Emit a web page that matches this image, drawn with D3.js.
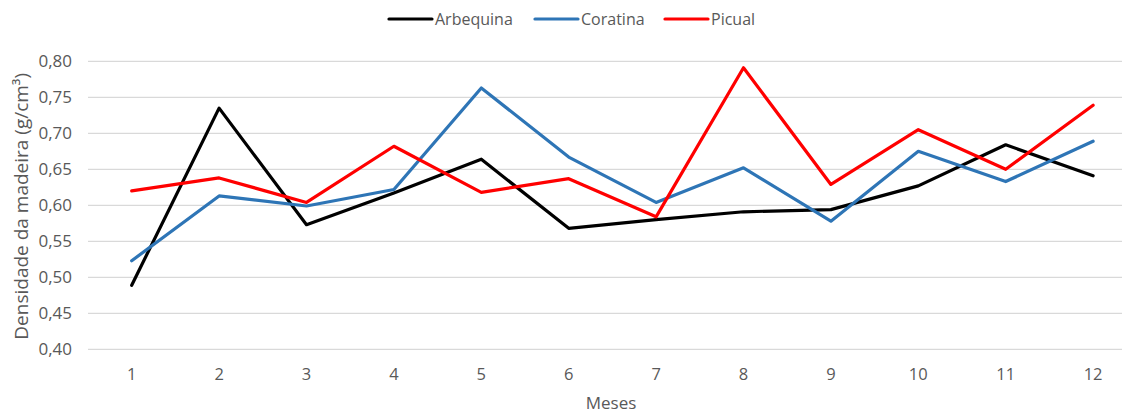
<!DOCTYPE html>
<html>
<head>
<meta charset="utf-8">
<script src="https://cdn.jsdelivr.net/npm/d3@7"></script>
<style>
  html, body { margin: 0; padding: 0; background: #fff; }
  svg { display: block; }
  text { font-family: "Open Sans", "Noto Sans", sans-serif; fill: #595959; }
</style>
</head>
<body>
<svg id="chart" width="1122" height="414"></svg>
<script>
// Months of the year
const months = ["1", "2", "3", "4", "5", "6", "7", "8", "9", "10", "11", "12"];

// Wood density (g/cm³) per cultivar
const arbequina = [0.489, 0.735, 0.573, 0.617, 0.664, 0.568, 0.580, 0.591, 0.594, 0.627, 0.684, 0.641];
const coratina  = [0.523, 0.613, 0.599, 0.622, 0.763, 0.667, 0.604, 0.652, 0.578, 0.675, 0.633, 0.689];
const picual    = [0.620, 0.638, 0.604, 0.682, 0.618, 0.637, 0.584, 0.791, 0.629, 0.705, 0.650, 0.739];

const seriesNames  = ["Arbequina", "Coratina", "Picual"];
const seriesColors = ["#000000", "#2E75B6", "#FF0000"];
const yTicks = [0.40, 0.45, 0.50, 0.55, 0.60, 0.65, 0.70, 0.75, 0.80];

const series = [arbequina, coratina, picual].map((values, i) => ({
  name: seriesNames[i], color: seriesColors[i], values
}));

const svg = d3.select("#chart");
const plotLeft = 88, plotTop = 61.3, plotBottom = 349.3;
const band = 87.4;

const x = d3.scaleBand().domain(months).range([plotLeft, plotLeft + band * months.length]);
const y = d3.scaleLinear().domain([0.40, 0.80]).range([plotBottom, plotTop]);
const fmt = v => d3.format(".2f")(v).replace(".", ",");

// Horizontal gridlines
svg.append("g")
  .selectAll("line")
  .data(yTicks)
  .join("line")
  .attr("x1", plotLeft).attr("x2", 1122)
  .attr("y1", d => y(d)).attr("y2", d => y(d))
  .attr("stroke", "#d9d9d9").attr("stroke-width", 1.3);

// Y axis labels
const yAxis = svg.append("g")
  .attr("transform", `translate(${plotLeft - 16},0)`)
  .call(d3.axisLeft(y).tickValues(yTicks).tickFormat(fmt).tickSize(0).tickPadding(0));
yAxis.select(".domain").remove();
yAxis.attr("font-family", null).attr("font-size", null);
yAxis.selectAll("text").attr("font-size", 17).attr("fill", null);

// X axis labels
const xAxis = svg.append("g")
  .attr("transform", `translate(0,${plotBottom + 19})`)
  .call(d3.axisBottom(x).tickSize(0).tickPadding(0));
xAxis.select(".domain").remove();
xAxis.attr("font-family", null).attr("font-size", null);
xAxis.selectAll("text").attr("font-size", 16.5).attr("fill", null);

// Axis titles
svg.append("text")
  .attr("transform", `translate(28,${(plotTop + plotBottom) / 2 + 1}) rotate(-90)`)
  .attr("text-anchor", "middle")
  .attr("font-size", 19)
  .text("Densidade da madeira (g/cm³)");

svg.append("text")
  .attr("x", 611).attr("y", 409)
  .attr("text-anchor", "middle")
  .attr("font-size", 17)
  .text("Meses");

// Series lines
const line = d3.line()
  .x((d, i) => x(months[i]) + x.bandwidth() / 2)
  .y(d => y(d));

svg.append("g")
  .selectAll("path")
  .data(series)
  .join("path")
  .attr("d", d => line(d.values))
  .attr("fill", "none")
  .attr("stroke", d => d.color)
  .attr("stroke-width", 3.2)
  .attr("stroke-linejoin", "round")
  .attr("stroke-linecap", "round");

// Legend
const legendX = [389, 535, 665];
const legend = svg.append("g")
  .selectAll("g")
  .data(series)
  .join("g")
  .attr("transform", (d, i) => `translate(${legendX[i]},19)`);
legend.append("line")
  .attr("x1", 0).attr("x2", 43)
  .attr("stroke", d => d.color)
  .attr("stroke-width", 3.2)
  .attr("stroke-linecap", "round");
legend.append("text")
  .attr("x", 46).attr("dy", "0.35em")
  .attr("font-size", 16)
  .text(d => d.name);
</script>
</body>
</html>
